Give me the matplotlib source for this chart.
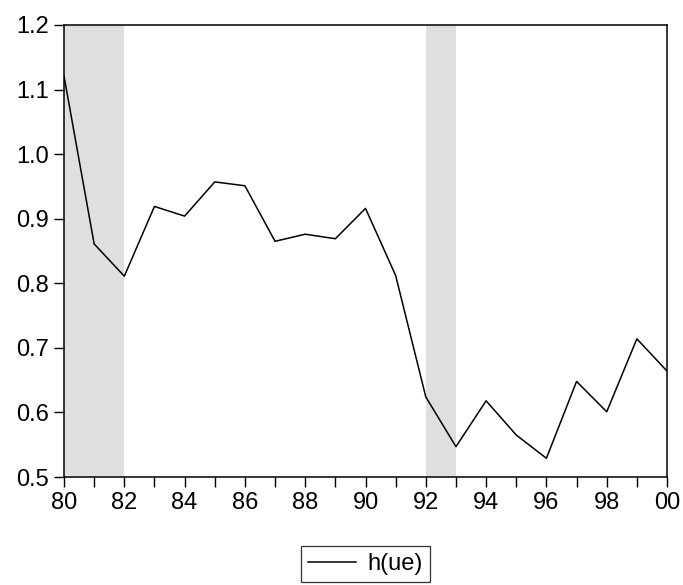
import numpy as np
import matplotlib.pyplot as plt
from matplotlib.ticker import MultipleLocator

plt.rcParams['font.family'] = ['Liberation Sans', 'DejaVu Sans']

# data
years = list(range(1980, 2001))
h_ue = [1.121, 0.861, 0.811, 0.919, 0.904, 0.957, 0.951, 0.865, 0.876, 0.869,
        0.916, 0.812, 0.624, 0.547, 0.618, 0.565, 0.529, 0.648, 0.601, 0.714, 0.664]
shaded = [(1980, 1982), (1992, 1993)]
year_labels = ['80', '82', '84', '86', '88', '90', '92', '94', '96', '98', '00']

fig = plt.figure(figsize=(6.83, 5.85), dpi=100)
ax = fig.add_axes([0.0937, 0.1846, 0.8829, 0.7727])

for a, b in shaded:
    ax.axvspan(a, b, color='#dfdfdf', lw=0, zorder=0)

ax.plot(years, h_ue, color='black', lw=1.1, label='h(ue)')

ax.set_xlim(1980, 2000)
ax.set_ylim(0.5, 1.2)
ax.set_xticks(years[::2])
ax.set_xticklabels(year_labels)
ax.xaxis.set_minor_locator(MultipleLocator(1))
ax.yaxis.set_major_locator(MultipleLocator(0.1))
ax.yaxis.set_major_formatter(plt.FormatStrFormatter('%.1f'))
ax.tick_params(axis='both', which='both', direction='out', length=7, width=1,
               labelsize=17, color='black')
ax.tick_params(axis='x', pad=4)
ax.tick_params(axis='y', pad=4)
for s in ax.spines.values():
    s.set_linewidth(1.1)

leg = ax.legend(loc='lower center', bbox_to_anchor=(0.5, -0.2325), frameon=True,
                fancybox=False, edgecolor='black', fontsize=17, handlelength=2.0,
                borderpad=0.3, handletextpad=0.5, borderaxespad=0)
leg.get_frame().set_linewidth(0.9)

fig.savefig('out.png', dpi=100)
